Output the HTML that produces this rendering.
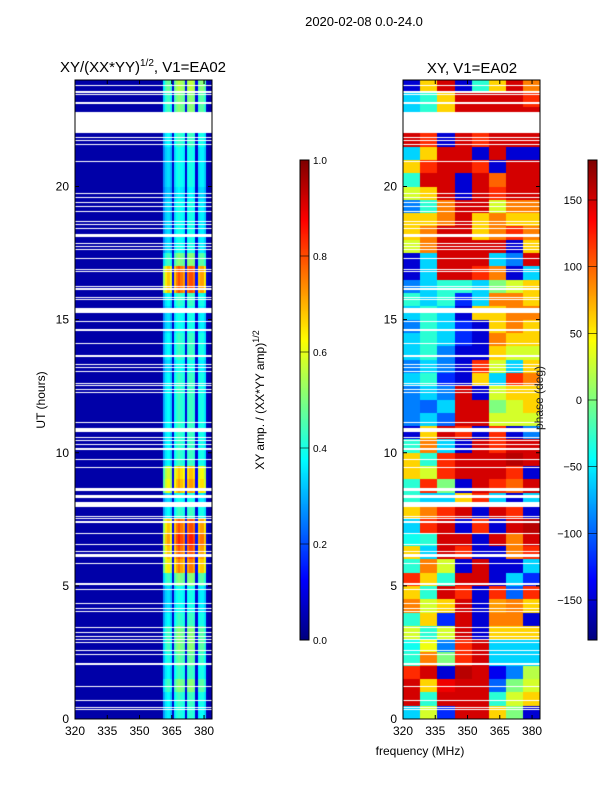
<!DOCTYPE html>
<html><head><meta charset="utf-8">
<style>
body{margin:0;background:#fff;width:600px;height:800px;position:relative;overflow:hidden;font-family:"Liberation Sans",sans-serif}
canvas{position:absolute}
svg{position:absolute;left:0;top:0}
</style></head><body>
<canvas id="ampCanvas" width="137" height="639" style="left:75px;top:80px"></canvas>
<canvas id="phCanvas" width="137" height="639" style="left:403px;top:80px"></canvas>
<canvas id="cb1" width="9" height="480" style="left:300px;top:160px"></canvas>
<canvas id="cb2" width="9" height="480" style="left:588px;top:160px"></canvas>
<svg id="ax" width="600" height="800"></svg>
<script>
// ---- data ----
const hourTicks=[0,5,10,15,20];
const freqTicks=[320,335,350,365,380];
const ampTicks=[0.0,0.2,0.4,0.6,0.8,1.0];
const phaseTicks=[-150,-100,-50,0,50,100,150];
// flagged time ranges (hours)
const flagStart=[0.34,0.42,0.69,1.19,2.03,2.41,2.57,2.86,2.98,3.07,3.22,3.42,4.01,4.14,4.33,4.83,5.05,5.83,6.08,6.14,6.26,6.54,6.95,7.38,7.52,7.58,7.97,8.3,8.57,9.43,9.73,10.12,10.29,10.43,10.55,10.78,11.1,12.24,12.36,12.49,12.59,13.02,13.17,13.28,13.58,14.09,14.59,14.9,15.26,15.72,15.8,16.13,16.22,16.78,16.87,17.26,17.63,17.72,17.85,18.11,18.41,18.57,18.66,19.04,19.22,19.37,19.56,19.72,20.92,21.3,21.56,21.71,21.82,22.0,23.08,23.15,23.45,23.53,23.78];
const flagEnd=[0.38,0.46,0.73,1.23,2.12,2.45,2.61,2.9,3.02,3.11,3.26,3.46,4.05,4.18,4.37,4.87,5.09,5.87,6.12,6.18,6.3,6.58,6.99,7.42,7.56,7.62,8.15,8.4,8.69,9.47,9.77,10.18,10.33,10.47,10.59,10.92,11.16,12.28,12.4,12.53,12.63,13.06,13.21,13.32,13.68,14.13,14.63,14.94,15.45,15.76,15.84,16.17,16.26,16.82,16.91,17.3,17.67,17.76,17.89,18.2,18.45,18.61,18.7,19.08,19.26,19.41,19.6,19.76,20.96,21.3,21.6,21.75,21.86,22.8,23.12,23.19,23.49,23.57,23.82];
// amplitude: per-MHz channel gain (320..383) and per half-hour row strength
const chanGain=[0,0,0,0,0,0,0,0,0,0,0,0,0,0,0,0,0,0,0,0,0,0,0,0,0,0,0,0,0,0,0,0,0,0,0,0,0,0,0,0,0,0.6,0.75,0.8,0.7,0.1,0.8,0.9,0.95,0.9,0.85,0.12,0.9,0.95,0.95,0.9,0.12,0.8,0.85,0.85,0.75,0.05,0,0];
const rowAmp=[0.4,0.42,0.5,0.42,0.46,0.5,0.5,0.42,0.38,0.38,0.5,0.75,0.8,0.85,0.8,0.42,0.38,0.72,0.68,0.42,0.42,0.42,0.42,0.42,0.42,0.42,0.38,0.42,0.42,0.38,0.38,0.42,0.8,0.8,0.5,0.38,0.38,0.38,0.38,0.35,0.38,0.38,0.38,0.42,0.42,0.5,0.5,0.55];
// phase (deg): 48 half-hour rows x 8 freq bins of 8 MHz
const phaseGrid=[
[-60,30,-120,150,150,60,0,-150],[150,-30,150,150,150,-30,30,60],[150,60,140,150,150,-100,0,30],[120,150,-150,160,150,-140,-90,20],
[-30,90,0,120,150,-60,-60,-60],[-40,40,-90,120,150,-60,-60,-60],[30,-30,30,150,-150,60,60,60],[-30,60,-120,150,-150,90,90,-150],
[90,30,60,150,-150,80,90,60],[60,-30,150,120,-150,120,-100,120],[120,60,-30,150,150,-150,-60,-120],[-30,90,30,-150,150,-150,-150,-60],
[60,-60,150,120,-150,-150,90,120],[-40,-30,150,150,-150,150,90,150],[-60,120,150,-150,120,-150,150,160],[60,90,120,150,-150,150,120,-150],
[-30,-60,-60,60,120,-60,-150,-60],[-30,120,0,-150,150,120,100,150],[60,30,120,150,150,150,120,-150],[60,-30,120,150,150,150,160,150],
[-30,90,-60,-150,150,120,150,150],[-150,60,150,120,-150,120,-150,-90],[-90,-60,-100,150,150,30,30,30],[-90,-100,-60,150,150,0,30,60],
[-90,-60,-90,150,-150,30,60,60],[-60,-30,-120,-150,60,-60,120,90],[-90,-60,-90,-150,120,30,-60,60],[-60,-30,-90,-150,-150,60,30,30],
[-60,-30,-60,-120,-150,90,60,60],[-90,-30,-60,-120,-150,60,90,60],[-60,-30,-60,-150,60,60,90,90],[-30,-60,-30,-120,-60,90,90,60],
[-90,-60,-30,-30,-60,0,30,60],[-150,-60,150,150,120,90,-150,-60],[-150,-60,150,150,150,-60,-90,150],[30,90,150,150,150,150,-150,60],
[60,90,150,150,60,90,120,90],[60,60,90,150,60,90,60,60],[-90,-30,90,150,150,30,90,90],[30,60,150,-150,150,120,150,150],
[-30,150,150,-150,150,100,150,150],[60,120,150,150,120,-150,150,150],[-60,60,150,150,-150,150,-150,-150],[150,120,-150,150,120,150,150,150],
[0,0,0,0,0,0,0,0],[-60,-30,60,150,150,150,150,150],[-60,-30,60,150,150,150,150,120],[-150,60,150,-150,-30,60,150,90]];

// ---- scales ----
const T=80,B=719,H0=0,H1=24,F0=320,F1=383.7;
const yH=h=>B-(h-H0)/(H1-H0)*(B-T);
const xF=(f,L)=>L+(f-F0)/(F1-F0)*137;
function jet(v){v=Math.max(0,Math.min(1,v));
 const r=Math.max(0,Math.min(1,1.5-Math.abs(4*v-3))),g=Math.max(0,Math.min(1,1.5-Math.abs(4*v-2))),b=Math.max(0,Math.min(1,1.5-Math.abs(4*v-1)));
 return [r*255|0,g*255|0,b*255|0];}
function flagged(h){for(let i=0;i<flagStart.length;i++)if(h>=flagStart[i]&&h<flagEnd[i])return true;return false;}

function drawMap(id,fn){const c=document.getElementById(id),ctx=c.getContext('2d'),im=ctx.createImageData(137,639);
 for(let y=0;y<639;y++){const h=H1-(y+0.5)/639*(H1-H0);const fl=flagged(h);
  for(let x=0;x<137;x++){const f=F0+(x+0.5)/137*(F1-F0);const k=(y*137+x)*4;
   let col=fl?[255,255,255]:jet(fn(f,h));im.data[k]=col[0];im.data[k+1]=col[1];im.data[k+2]=col[2];im.data[k+3]=255;}}
 ctx.putImageData(im,0,0);}
drawMap('ampCanvas',(f,h)=>{const ci=Math.min(chanGain.length-1,Math.floor(f-F0));const ri=Math.min(47,Math.floor(h*2));return 0.04+chanGain[ci]*rowAmp[ri];});
drawMap('phCanvas',(f,h)=>{const ci=Math.min(7,Math.floor((f-F0)/8));const ri=Math.min(47,Math.floor(h*2));return (phaseGrid[ri][ci]+180)/360;});
function drawBar(id){const c=document.getElementById(id),ctx=c.getContext('2d');for(let y=0;y<480;y++){const col=jet(1-y/479);ctx.fillStyle=`rgb(${col})`;ctx.fillRect(0,y,9,1);}}
drawBar('cb1');drawBar('cb2');

// ---- axes svg ----
const svg=document.getElementById('ax');const NS='http://www.w3.org/2000/svg';
function el(t,a,txt){const e=document.createElementNS(NS,t);for(const k in a)e.setAttribute(k,a[k]);if(txt!==undefined)e.textContent=txt;svg.appendChild(e);return e;}
function txt(x,y,s,size,anchor,name,rot){const e=el('text',{x:x,y:y,'font-size':size,'text-anchor':anchor||'middle',fill:'#000'},s);
 if(rot)e.setAttribute('transform',`rotate(-90 ${x} ${y})`);
 
 return e;}
[75,403].forEach((L,pi)=>{
 const r=el('rect',{x:L,y:T,width:137,height:B-T,fill:'none',stroke:'#000','stroke-width':1});
 
 
 hourTicks.forEach(h=>{const y=yH(h);
  el('line',{x1:L,x2:L+4,y1:y,y2:y,stroke:'#000'});el('line',{x1:L+137-4,x2:L+137,y1:y,y2:y,stroke:'#000'});
  txt(L-6,y+4,String(h),12,'end','y-tick-label');});
 freqTicks.forEach(f=>{const x=xF(f,L);
  el('line',{x1:x,x2:x,y1:B,y2:B-4,stroke:'#000'});el('line',{x1:x,x2:x,y1:T,y2:T+4,stroke:'#000'});
  txt(x,B+16,String(f),12,'middle','x-tick-label');});
});
// colorbars frames & ticks
[[300,ampTicks,0,1,v=>v.toFixed(1),'amp-colorbar-tick',13,'start',10],[588,phaseTicks,-180,180,v=>String(v).replace('-','\u2212'),'phase-colorbar-tick',-6,'end',11]].forEach(([X,ticks,lo,hi,fmt,nm,dx,anc,fs])=>{
 el('rect',{x:X,y:160,width:9,height:480,fill:'none',stroke:'#000'});
 ticks.forEach(v=>{const y=640-(v-lo)/(hi-lo)*480;el('line',{x1:X,x2:X+9,y1:y,y2:y,stroke:'#000','stroke-width':0.6});
  txt(X+dx,y+4,fmt(v),fs,anc,nm);});
});
txt(364,26,'2020-02-08 0.0-24.0',13,'middle','figure-title');
const t1=txt(143,72,'',15,'middle','amp-plot-title');t1.innerHTML='XY/(XX*YY)<tspan font-size="10" dy="-6">1/2</tspan><tspan dy="6">, V1=EA02</tspan>';
txt(472,73,'XY, V1=EA02',15,'middle','phase-plot-title');
txt(45,400,'UT (hours)',12,'middle','y-axis-title',true);
const t2=txt(264,400,'',12,'middle','amp-colorbar-title',true);t2.innerHTML='XY amp. / (XX*YY amp)<tspan font-size="9" dy="-5">1/2</tspan>';
const t3=txt(543,398,'phase (deg)',12,'middle','phase-colorbar-title',true);t3.setAttribute('fill','#222');
txt(420,755,'frequency (MHz)',12,'middle','x-axis-title');
</script>
</body></html>
